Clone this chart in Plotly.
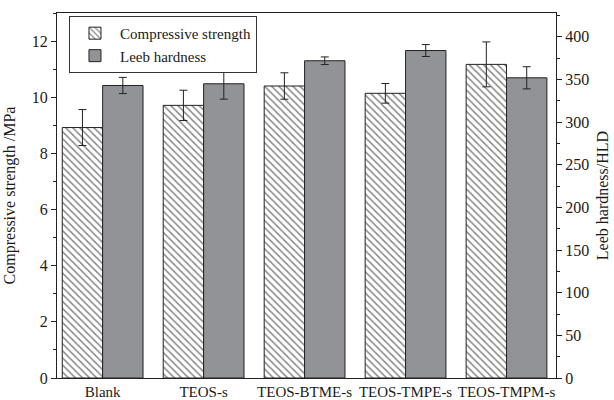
import plotly.graph_objects as go

categories = ["Blank", "TEOS-s", "TEOS-BTME-s", "TEOS-TMPE-s", "TEOS-TMPM-s"]
compressive = [8.92, 9.71, 10.40, 10.14, 11.17]
compressive_err = [0.64, 0.54, 0.47, 0.35, 0.80]
leeb = [343, 345, 372, 384, 352]
leeb_err = [9.5, 18, 4.5, 7, 13]

FONT = "Liberation Serif"
TXT = "#1a1a1a"

fig = go.Figure()
fig.add_trace(go.Bar(
    x=categories, y=compressive, name="Compressive strength",
    offsetgroup="a", yaxis="y",
    marker=dict(color="white", line=dict(color="#222", width=1),
                pattern=dict(shape="\\", fgcolor="#111", bgcolor="white", size=5, solidity=0.3)),
    error_y=dict(type="data", array=compressive_err, color="#222", thickness=1, width=4),
))
fig.add_trace(go.Bar(
    x=categories, y=leeb, name="Leeb hardness",
    offsetgroup="b", yaxis="y2",
    marker=dict(color="#929396", line=dict(color="#222", width=1)),
    error_y=dict(type="data", array=leeb_err, color="#222", thickness=1, width=4),
))

fig.update_layout(
    width=614, height=400,
    margin=dict(l=57, r=58, t=13, b=22),
    paper_bgcolor="white", plot_bgcolor="white",
    font=dict(family=FONT, size=16, color=TXT),
    barmode="group", bargap=0.2, bargroupgap=0,
    showlegend=True,
    legend=dict(x=0.024, y=0.992, xanchor="left", yanchor="top",
                bordercolor="#333", borderwidth=1, bgcolor="white",
                font=dict(family=FONT, size=15, color=TXT),
                tracegroupgap=0, itemwidth=40),
    xaxis=dict(range=[-0.452, 4.49], showline=True, linecolor="#222", linewidth=1.3,
               mirror=True, ticks="", showgrid=False, zeroline=False, automargin=False,
               tickangle=0,
               tickfont=dict(family=FONT, size=15, color=TXT)),
    yaxis=dict(range=[0, 13], dtick=2, showline=True, linecolor="#222", linewidth=1.3,
               ticks="outside", ticklen=5, tickcolor="#222", showgrid=False, zeroline=False,
               automargin=False,
               minor=dict(dtick=1, ticks="outside", ticklen=3, tickcolor="#222"),
               title=dict(text="Compressive strength /MPa", font=dict(family=FONT, size=16, color=TXT), standoff=12),
               tickfont=dict(family=FONT, size=16, color=TXT)),
    yaxis2=dict(range=[0, 428], dtick=50, overlaying="y", side="right", anchor="x",
                showline=True, linecolor="#222", linewidth=1.3, automargin=False,
                ticks="outside", ticklen=5, tickcolor="#222", showgrid=False, zeroline=False,
                minor=dict(dtick=25, ticks="outside", ticklen=3, tickcolor="#222"),
                title=dict(text="Leeb hardness/HLD", font=dict(family=FONT, size=16, color=TXT), standoff=8),
                tickfont=dict(family=FONT, size=16, color=TXT)),
)

fig.write_html("out.html")
